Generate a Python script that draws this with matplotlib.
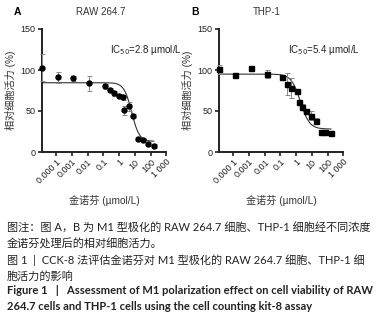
import numpy as np
import matplotlib
matplotlib.use("Agg")
import matplotlib.pyplot as plt

plt.rcParams['font.family'] = ['Liberation Sans', 'Noto Sans CJK SC']
plt.rcParams['axes.unicode_minus'] = False

# concentration (umol/L); first point is the untreated control drawn on the y axis
conc_a = [1.2e-5, 1.4e-4, 1.25e-3, 1.25e-2, 0.135, 0.28, 0.5, 1.0, 1.7, 2.0, 4.5, 8.0, 16, 34, 68, 160]
via_a = [103, 91, 90, 83.7, 80, 75.6, 71.6, 68.3, 66.7, 51, 56, 44, 16, 14.6, 9.8, 7.3]
err_a = [17, 7, 3, 9, 3, 3, 3, 3, 3, 5.5, 5.5, 2.5, 2, 2, 2.5, 2]

conc_b = [1.2e-5, 1.25e-4, 1.35e-3, 1.35e-2, 0.125, 0.25, 0.5, 1.15, 1.6, 2.2, 4.4, 9.1, 18, 36, 71, 160]
via_b = [101, 94, 103, 95.5, 92, 83, 77.7, 74.8, 61, 55, 50, 44, 38, 24.4, 24, 23]
err_b = [5.5, 1.5, 2, 5, 2, 13, 12, 2, 3, 3, 3, 5.5, 3, 1, 1, 1]

# fitted dose-response curves (top, bottom, midpoint, hill slope)
fit_a = (84.5, 13, 6.3, 1.8)
fit_b = (95, 28, 1.86, 1.5)

titles = ["RAW 264.7", "THP-1"]
letters = ["A", "B"]
ic50_labels = ["IC$_{50}$=2.8 µmol/L", "IC$_{50}$=5.4 µmol/L"]
xticks = [1e-4, 1e-3, 1e-2, 1e-1, 1, 10, 100, 1000]
xticklabels = ["0.000 1", "0.001", "0.01", "0.1", "1", "10", "100", "1 000"]

fig = plt.figure(figsize=(3.84, 3.23), dpi=100)
W, H = 384, 323

panels = [
    (conc_a, via_a, err_a, fit_a, 'o', 41.7),
    (conc_b, via_b, err_b, fit_b, 's', 218.8),
]
xmin = 10 ** -4.91
for i, (c, v, e, fit, mk, left) in enumerate(panels):
    ax = fig.add_axes([left / W, 1 - 152 / H, 124.6 / W, 123 / H])
    top, bot, mid, h = fit
    xs = np.logspace(np.log10(xmin), np.log10(c[-1]), 300)
    ax.plot(xs, bot + (top - bot) / (1 + (xs / mid) ** h), color='#333333', lw=0.8, clip_on=False)
    ax.errorbar(c, v, yerr=e, fmt=mk, color='black', ms=3.6, ecolor='#888888',
                elinewidth=0.7, capsize=1.8, capthick=0.7, clip_on=False, zorder=3)
    ax.set_xscale('log')
    ax.set_xlim(xmin, 1000)
    ax.set_ylim(0, 150)
    ax.set_yticks([0, 50, 100, 150])
    ax.set_xticks(xticks)
    ax.set_xticklabels(xticklabels, rotation=45, ha='right', rotation_mode='anchor')
    ax.minorticks_off()
    for s in ['top', 'right']:
        ax.spines[s].set_visible(False)
    for s in ['left', 'bottom']:
        ax.spines[s].set_linewidth(1.4)
        ax.spines[s].set_color('#222222')
    ax.tick_params(axis='both', length=3, width=1.2, labelsize=6.5, pad=1.5, colors='#222222')
    ax.tick_params(axis='x', pad=1)
    ax.set_ylabel("相对细胞活力 (%)", fontsize=7.3, color='#333333', labelpad=3)
    ax.set_xlabel("金诺芬 (µmol/L)", fontsize=7.3, color='#333333', labelpad=7)
    ax.text(0.84, 0.83, ic50_labels[i], transform=ax.transAxes, fontsize=7,
            ha='center', va='center', color='#222222')
    fig.text((left - 28) / W, 1 - 12 / H, letters[i], fontsize=7.5, fontweight='bold', va='center')
    fig.text((left + 34) / W, 1 - 12 / H, titles[i], fontsize=7, va='center', color='#333333')

cap = ['Lato', 'Noto Sans CJK SC']
lines = [
    ("图注：图 A，B 为 M1 型极化的 RAW 264.7 细胞、THP-1 细胞经不同浓度", 227, 'normal'),
    ("金诺芬处理后的相对细胞活力。", 243, 'normal'),
    ("图 1  |  CCK-8 法评估金诺芬对 M1 型极化的 RAW 264.7 细胞、THP-1 细", 260, 'normal'),
    ("胞活力的影响", 276, 'normal'),
    ("Figure 1   |   Assessment of M1 polarization effect on cell viability of RAW", 291, 'bold'),
    ("264.7 cells and THP-1 cells using the cell counting kit-8 assay", 307, 'bold'),
]
for txt, y, wt in lines:
    fig.text(7 / W, 1 - y / H, txt, fontsize=8.0, family=cap, fontweight=wt,
             va='center', ha='left', color='#222222')

fig.savefig("out.png", dpi=100)
